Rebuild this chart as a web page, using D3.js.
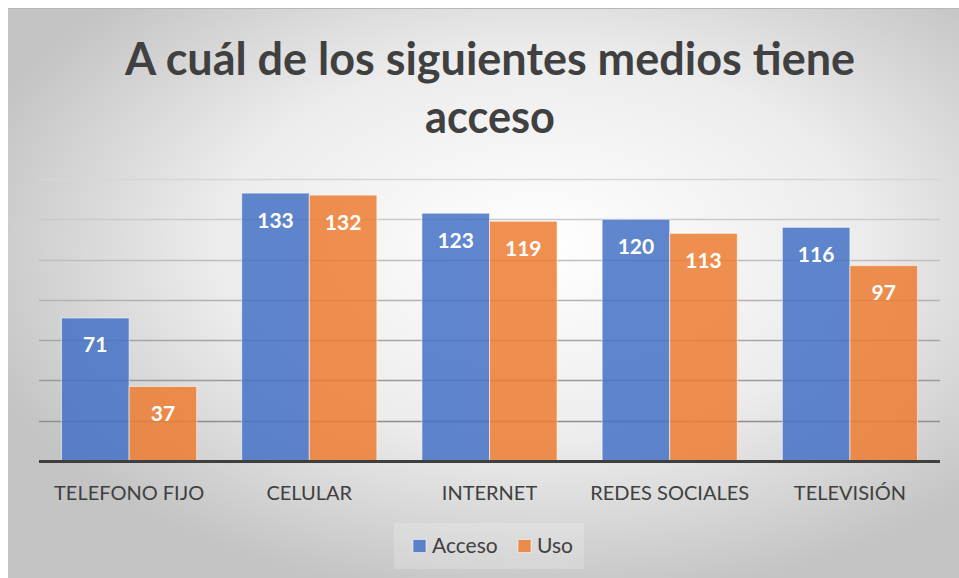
<!DOCTYPE html>
<html>
<head>
<meta charset="utf-8">
<script src="https://cdn.jsdelivr.net/npm/d3@7"></script>
<style>
  html, body { margin: 0; padding: 0; background: #fff; }
  svg { display: block; }
</style>
</head>
<body>
<svg id="chart" width="959" height="578"></svg>
<script>
const categories = ['TELEFONO FIJO', 'CELULAR', 'INTERNET', 'REDES SOCIALES', 'TELEVISIÓN'];
const seriesNames = ['Acceso', 'Uso'];
const acceso = [71, 133, 123, 120, 116];
const uso = [37, 132, 119, 113, 97];
const yTicks = [0, 20, 40, 60, 80, 100, 120, 140];
const titleLines = ['A cuál de los siguientes medios tiene', 'acceso'];

const colors = { Acceso: '#4472C4', Uso: '#ED7D31' };
const font = 'Lato, "Open Sans", sans-serif';
const textColor = '#404040';

const width = 959, height = 578;
const plot = { left: 39, right: 940, top: 179, bottom: 461 };

const svg = d3.select('#chart');
const defs = svg.append('defs');

const bg = defs.append('radialGradient')
  .attr('id', 'bg')
  .attr('cx', '56%').attr('cy', '42%').attr('r', '62%');
bg.append('stop').attr('offset', '0%').attr('stop-color', '#ffffff');
bg.append('stop').attr('offset', '55%').attr('stop-color', '#ececec');
bg.append('stop').attr('offset', '100%').attr('stop-color', '#c4c4c4');

// chart area
svg.append('rect')
  .attr('x', 8).attr('y', 8)
  .attr('width', width - 8).attr('height', height - 8)
  .attr('fill', 'url(#bg)');
svg.append('line')
  .attr('x1', 8).attr('x2', width).attr('y1', 8.5).attr('y2', 8.5)
  .attr('stroke', '#b8b8b8').attr('stroke-width', 1);

const x0 = d3.scaleBand()
  .domain(categories)
  .range([plot.left, plot.right])
  .paddingInner(0.25)
  .paddingOuter(0.125);

const x1 = d3.scaleBand()
  .domain(seriesNames)
  .range([0, x0.bandwidth()]);

const y = d3.scaleLinear()
  .domain([0, 140])
  .range([plot.bottom, plot.top]);

const gridShade = d3.scaleLinear()
  .domain([140, 20])
  .range(['#d6d6d6', '#8e8e8e']);

// gridlines
svg.append('g')
  .selectAll('line')
  .data(yTicks.filter(d => d > 0))
  .join('line')
  .attr('x1', plot.left).attr('x2', plot.right)
  .attr('y1', d => Math.round(y(d)) + 0.5)
  .attr('y2', d => Math.round(y(d)) + 0.5)
  .attr('stroke', d => gridShade(d))
  .attr('stroke-width', 1.3);

const rows = categories.map((c, i) => ({ category: c, values: [
  { name: 'Acceso', value: acceso[i] },
  { name: 'Uso', value: uso[i] }
] }));

const groups = svg.append('g')
  .selectAll('g')
  .data(rows)
  .join('g')
  .attr('transform', d => `translate(${x0(d.category)},0)`);

groups.selectAll('rect')
  .data(d => d.values)
  .join('rect')
  .attr('x', d => x1(d.name))
  .attr('y', d => y(d.value))
  .attr('width', x1.bandwidth())
  .attr('height', d => y(0) - y(d.value))
  .attr('fill', d => colors[d.name])
  .attr('fill-opacity', 0.85)
  .attr('stroke', 'rgba(255,255,255,0.55)')
  .attr('stroke-width', 1);

groups.selectAll('text')
  .data(d => d.values)
  .join('text')
  .attr('x', d => x1(d.name) + x1.bandwidth() / 2)
  .attr('y', d => y(d.value) + 34.5)
  .attr('text-anchor', 'middle')
  .attr('font-family', font)
  .attr('font-weight', 700)
  .attr('font-size', 21)
  .attr('fill', '#ffffff')
  .text(d => d.value);

// baseline
svg.append('line')
  .attr('x1', plot.left).attr('x2', plot.right)
  .attr('y1', y(0) + 0.5).attr('y2', y(0) + 0.5)
  .attr('stroke', '#3f3f3f')
  .attr('stroke-width', 3);

// category axis
const xAxis = svg.append('g')
  .attr('transform', `translate(0,${plot.bottom})`)
  .call(d3.axisBottom(x0).tickSize(0).tickPadding(0));
xAxis.select('.domain').remove();
xAxis.selectAll('text')
  .attr('y', 39)
  .attr('dy', 0)
  .attr('font-family', font)
  .attr('font-size', 20)
  .attr('fill', textColor);

// title
svg.append('g')
  .selectAll('text')
  .data(titleLines)
  .join('text')
  .attr('x', 490)
  .attr('y', (d, i) => 75 + i * 58)
  .attr('text-anchor', 'middle')
  .attr('font-family', font)
  .attr('font-weight', 700)
  .attr('font-size', 46)
  .attr('fill', textColor)
  .attr('textLength', (d, i) => i === 0 ? 730 : 130)
  .attr('lengthAdjust', 'spacingAndGlyphs')
  .text(d => d);

// legend
const legend = svg.append('g');
legend.append('rect')
  .attr('x', 394).attr('y', 523)
  .attr('width', 190).attr('height', 46)
  .attr('fill', '#ffffff').attr('fill-opacity', 0.2);

const legendItems = legend.selectAll('g')
  .data(seriesNames)
  .join('g')
  .attr('transform', (d, i) => `translate(${i === 0 ? 413 : 518},0)`);
legendItems.append('rect')
  .attr('x', 0).attr('y', 539.5)
  .attr('width', 13).attr('height', 13)
  .attr('fill', d => colors[d])
  .attr('fill-opacity', 0.85)
  .attr('stroke', 'rgba(255,255,255,0.55)');
legendItems.append('text')
  .attr('x', 19).attr('y', 553)
  .attr('font-family', font)
  .attr('font-size', 21)
  .attr('fill', textColor)
  .text(d => d);
</script>
</body>
</html>
